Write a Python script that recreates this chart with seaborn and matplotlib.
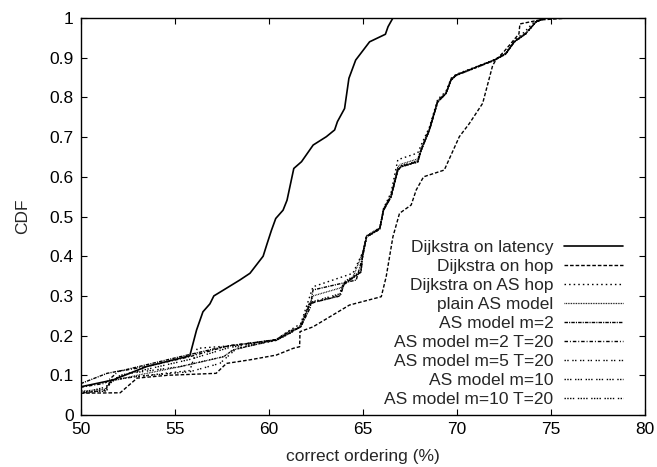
import matplotlib
matplotlib.use("Agg")
import matplotlib.pyplot as plt
import seaborn as sns
import numpy as np
import pandas as pd

# ---------------- data ----------------
labels = ["Dijkstra on latency", "Dijkstra on hop", "Dijkstra on AS hop",
          "plain AS model", "AS model m=2", "AS model m=2 T=20",
          "AS model m=5 T=20", "AS model m=10", "AS model m=10 T=20"]

lat_x = [50, 51.7, 53.5, 55.8, 56.16, 56.5, 56.87, 57.08, 57.6, 58.46, 59.0, 59.7, 59.9,
         60.14, 60.37, 60.76, 60.97, 61.33, 61.74, 62.36, 63.06, 63.5, 63.65, 64.03, 64.26,
         64.62, 65.36, 66.2, 66.34, 66.6]
lat_y = [0.071, 0.088, 0.122, 0.149, 0.214, 0.26, 0.28, 0.30, 0.315, 0.34, 0.357, 0.40, 0.43,
         0.465, 0.495, 0.516, 0.541, 0.621, 0.638, 0.68, 0.701, 0.718, 0.739, 0.772, 0.848,
         0.894, 0.94, 0.959, 0.978, 1.0]

hop_x = [50, 52.1, 53.0, 54.6, 57.2, 57.75, 59.0, 60.4, 61.3, 61.64, 61.66, 62.35, 64.29,
         65.98, 66.24, 66.6, 66.95, 67.57, 67.84, 68.23, 69.33, 70.13, 70.66, 71.37, 71.9,
         72.07, 72.5, 73.3, 73.35, 74.4, 76.0]
hop_y = [0.055, 0.056, 0.093, 0.100, 0.105, 0.13, 0.139, 0.151, 0.168, 0.172, 0.21, 0.222,
         0.277, 0.298, 0.348, 0.449, 0.508, 0.529, 0.567, 0.60, 0.617, 0.701, 0.734, 0.785,
         0.88, 0.894, 0.915, 0.96, 0.985, 0.995, 1.0]

ashop_x = [50, 51.3, 51.6, 53.0, 55.8, 56.2, 58.4, 60.4, 61.0, 61.7, 62.35, 64.47, 65.0,
           65.2, 65.9, 66.1, 66.5, 66.86, 67.92, 68.1, 68.54, 68.98, 69.42, 69.69, 69.96,
           72.0, 72.6, 73.05, 73.6, 74.1, 74.6]
ashop_y = [0.055, 0.062, 0.088, 0.097, 0.112, 0.168, 0.176, 0.19, 0.21, 0.23, 0.323, 0.357,
           0.41, 0.45, 0.47, 0.52, 0.56, 0.643, 0.66, 0.68, 0.725, 0.795, 0.815, 0.848,
           0.858, 0.895, 0.912, 0.942, 0.965, 0.99, 1.0]

plain_x = [50, 51.3, 51.6, 53.0, 55.3, 57.6, 58.1, 60.4, 61.1, 61.6, 62.1, 62.35, 63.8,
           64.5, 65.0, 65.2, 65.9, 66.1, 66.5, 66.86, 67.04, 67.92, 68.1, 68.54, 68.98,
           69.42, 69.69, 69.96, 71.99, 72.6, 73.05, 73.67, 74.2, 74.8]
plain_y = [0.06, 0.065, 0.085, 0.10, 0.122, 0.147, 0.164, 0.19, 0.212, 0.22, 0.27, 0.30,
           0.32, 0.35, 0.41, 0.452, 0.472, 0.52, 0.555, 0.625, 0.632, 0.645, 0.672, 0.722,
           0.792, 0.812, 0.846, 0.857, 0.894, 0.91, 0.94, 0.962, 0.99, 1.0]

m2_x = [50, 51.4, 52.3, 55.3, 57.6, 60.4, 61.1, 61.7, 62.2, 62.35, 64.65, 65.0, 65.2,
        65.9, 66.1, 66.5, 66.86, 67.04, 67.92, 68.1, 68.54, 68.98, 69.42, 69.69, 69.96,
        71.99, 72.6, 73.05, 73.67, 74.2, 74.7]
m2_y = [0.079, 0.105, 0.113, 0.147, 0.172, 0.19, 0.21, 0.222, 0.27, 0.315, 0.34, 0.40,
        0.449, 0.468, 0.516, 0.55, 0.617, 0.626, 0.638, 0.667, 0.718, 0.789, 0.81, 0.844,
        0.856, 0.894, 0.91, 0.94, 0.961, 0.99, 1.0]

m2t_x = [50, 51.3, 52.0, 53.5, 55.8, 57.9, 60.4, 61.1, 61.7, 62.2, 62.5, 63.8, 64.0,
         64.9, 65.0, 65.2, 65.9, 66.1, 66.5, 66.86, 67.04, 67.92, 68.1, 68.54, 68.98,
         69.42, 69.69, 69.96, 71.99, 72.6, 73.05, 73.67, 74.2, 74.7]
m2t_y = [0.07, 0.08, 0.11, 0.122, 0.147, 0.175, 0.189, 0.206, 0.223, 0.28, 0.285, 0.30,
         0.33, 0.36, 0.407, 0.449, 0.47, 0.516, 0.55, 0.617, 0.626, 0.638, 0.667, 0.718,
         0.789, 0.81, 0.844, 0.856, 0.894, 0.91, 0.94, 0.961, 0.99, 1.0]

m5t_x = [50, 51.4, 51.6, 53.0, 55.8, 57.4, 58.3, 60.4, 61.1, 61.7, 62.17, 63.76, 64.0,
         64.9, 65.0, 65.2, 65.9, 66.1, 66.5, 66.86, 67.04, 67.92, 68.1, 68.54, 68.98,
         69.42, 69.69, 69.96, 71.99, 72.6, 73.05, 73.67, 74.2, 74.7]
m5t_y = [0.055, 0.063, 0.088, 0.097, 0.109, 0.13, 0.168, 0.188, 0.205, 0.223, 0.281, 0.302,
         0.33, 0.361, 0.407, 0.449, 0.47, 0.516, 0.55, 0.617, 0.626, 0.638, 0.667, 0.718,
         0.789, 0.81, 0.844, 0.856, 0.894, 0.91, 0.94, 0.961, 0.99, 1.0]

m10_x = [50, 51.3, 51.7, 52.6, 55.3, 57.6, 58.1, 60.4, 61.1, 61.7, 62.17, 63.76, 64.0,
         64.9, 65.0, 65.2, 65.9, 66.1, 66.5, 66.86, 67.04, 67.92, 68.1, 68.54, 68.98,
         69.42, 69.69, 69.96, 71.99, 72.6, 73.05, 73.67, 74.2, 74.7]
m10_y = [0.058, 0.06, 0.09, 0.105, 0.122, 0.147, 0.164, 0.19, 0.207, 0.222, 0.283, 0.305,
         0.335, 0.362, 0.41, 0.45, 0.47, 0.516, 0.552, 0.62, 0.628, 0.64, 0.668, 0.72,
         0.79, 0.81, 0.845, 0.856, 0.894, 0.91, 0.94, 0.961, 0.99, 1.0]

m10t_x = [50, 51.3, 52.1, 53.5, 55.8, 57.9, 60.4, 61.1, 61.7, 62.17, 63.76, 64.0,
          64.9, 65.0, 65.2, 65.9, 66.1, 66.5, 66.86, 67.04, 67.92, 68.1, 68.54, 68.98,
          69.42, 69.69, 69.96, 71.99, 72.6, 73.05, 73.67, 74.2, 74.7]
m10t_y = [0.055, 0.07, 0.10, 0.115, 0.14, 0.17, 0.188, 0.206, 0.223, 0.281, 0.30,
          0.328, 0.36, 0.405, 0.448, 0.468, 0.515, 0.549, 0.616, 0.625, 0.637, 0.666, 0.717,
          0.788, 0.809, 0.843, 0.855, 0.893, 0.909, 0.939, 0.96, 0.99, 1.0]

series_x = [lat_x, hop_x, ashop_x, plain_x, m2_x, m2t_x, m5t_x, m10_x, m10t_x]
series_y = [lat_y, hop_y, ashop_y, plain_y, m2_y, m2t_y, m5t_y, m10_y, m10t_y]

x_ticks = [50, 55, 60, 65, 70, 75, 80]
y_ticks = [0, 0.1, 0.2, 0.3, 0.4, 0.5, 0.6, 0.7, 0.8, 0.9, 1]
y_ticklabels = ["0", "0.1", "0.2", "0.3", "0.4", "0.5", "0.6", "0.7", "0.8", "0.9", "1"]

# ---------------- styles ----------------
dash_styles = [None, (2.6, 1.4), (1.1, 2.2), (0.6, 0.6), (2.5, 0.8, 0.8, 0.8),
               (2.5, 1.4, 0.7, 1.4), (1.0, 1.0, 1.0, 2.6),
               (1.0, 1.0, 1.0, 1.0, 1.0, 2.6), (1.0, 1.0, 1.0, 1.0, 1.0, 1.0, 1.0, 2.6)]
widths = [1.2, 1.0, 1.0, 0.9, 1.0, 1.0, 1.0, 1.0, 1.0]

sns.set_theme(style="ticks")
plt.rcParams['font.family'] = ['Liberation Sans', 'DejaVu Sans']
plt.rcParams['lines.scale_dashes'] = False

FS = 12.5

fig = plt.figure(figsize=(6.57, 4.67), dpi=100)
ax = fig.add_axes([0.1228, 0.1113, 0.9817 - 0.1228, 0.9615 - 0.1113])

for lab, xs, ys, ds, lw in zip(labels, series_x, series_y, dash_styles, widths):
    df = pd.DataFrame({"x": xs, "y": ys})
    sns.lineplot(data=df, x="x", y="y", ax=ax, color="black", linewidth=lw,
                 sort=False, estimator=None, label=lab)
    line = ax.lines[-1]
    if ds is not None:
        line.set_dashes(ds)
        line.set_dash_capstyle("butt")

ax.set_xlim(50, 80)
ax.set_ylim(0, 1)
ax.set_xticks(x_ticks)
ax.set_xticklabels([str(t) for t in x_ticks])
ax.set_yticks(y_ticks)
ax.set_yticklabels(y_ticklabels)
ax.tick_params(direction="in", length=4.5, width=0.8, top=True, right=True,
               labelsize=FS, colors="black", pad=5)
for s in ax.spines.values():
    s.set_visible(True)
    s.set_linewidth(1.0)
    s.set_color("black")

ax.set_xlabel("correct ordering (%)", fontsize=FS, labelpad=9)
ax.set_ylabel("CDF", fontsize=FS, labelpad=14)

leg = ax.legend(loc="lower right", bbox_to_anchor=(0.961, 0.02), frameon=False,
                markerfirst=False, fontsize=FS, handlelength=3.4, handletextpad=0.6,
                labelspacing=0.22, borderpad=0, borderaxespad=0)

fig.savefig("out.png", dpi=100)
